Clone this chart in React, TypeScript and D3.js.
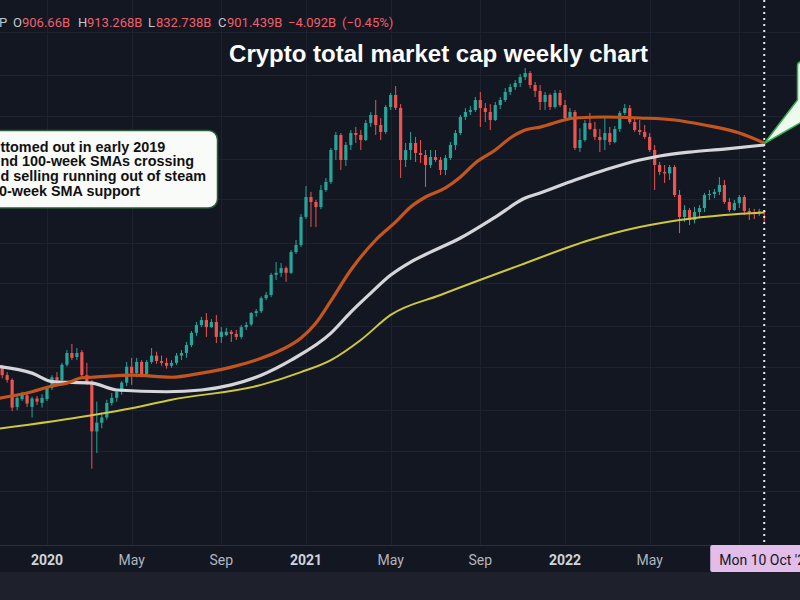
import React from 'react';
import * as d3 from 'd3';

// ---------- DATA (billions USD, weekly bars starting Monday) ----------
const firstBar = '2019-10-28';
const lastBar = '2022-10-10';

const barOpen = [
  253, 249, 234, 225, 180, 192, 198, 180, 193, 186,
  192, 211, 230, 225, 255, 281, 272, 283, 234, 222,
  147, 158, 165, 186, 194, 204, 220, 251, 238, 261,
  236, 261, 275, 263, 259, 253, 259, 275, 281, 300,
  332, 354, 369, 348, 363, 321, 326, 335, 329, 321,
  348, 356, 391, 397, 442, 454, 536, 545, 567, 545,
  647, 686, 865, 1020, 979, 939, 1081, 1155, 1504, 1703,
  1385, 1568, 1731, 1703, 1634, 1879, 2009, 1849, 1746, 2146,
  2370, 2130, 1385, 1504, 1595, 1468, 1443, 1329, 1420, 1385,
  1275, 1408, 1568, 1731, 1977, 2060, 2093, 2274, 2127, 2060,
  1927, 2181, 2274, 2430, 2532, 2617, 2749, 2841, 2574, 2450,
  2237, 2370, 2146, 2409, 2181, 1958, 2060, 1530, 1634, 1879,
  1790, 1676, 1634, 1730, 1607, 1790, 2043, 2127, 1896, 1774,
  1746, 1676, 1504, 1329, 1254, 1240, 1307, 1037, 865, 916,
  843, 901, 931, 1037, 1046, 1064, 1126, 979, 916, 970,
  1020, 909, 895, 888, 906.66,
];
const barHigh = [
  261, 255, 240, 228, 197, 204, 202, 196, 197, 200,
  214, 234, 240, 259, 288, 303, 293, 288, 259, 225,
  188, 172, 191, 202, 207, 223, 261, 270, 270, 265,
  265, 293, 284, 275, 270, 265, 281, 288, 308, 337,
  363, 379, 391, 372, 385, 348, 346, 340, 340, 354,
  363, 394, 404, 449, 465, 545, 596, 591, 575, 658,
  715, 886, 1117, 1064, 995, 1126, 1193, 1529, 1746, 1731,
  1607, 1774, 1819, 1774, 1927, 2058, 2274, 1958, 2181, 2409,
  2553, 2200, 1595, 1746, 1676, 1634, 1504, 1504, 1504, 1420,
  1443, 1607, 1774, 2009, 2127, 2164, 2332, 2430, 2216, 2199,
  2237, 2332, 2510, 2596, 2682, 2818, 2963, 2889, 2639, 2574,
  2430, 2400, 2470, 2470, 2274, 2127, 2093, 1800, 1927, 2043,
  1896, 1790, 1958, 1819, 1834, 2077, 2199, 2181, 1958, 1927,
  1849, 1731, 1568, 1363, 1329, 1329, 1329, 1081, 954, 931,
  939, 954, 1055, 1081, 1090, 1203, 1174, 1010, 995, 1037,
  1037, 931, 925, 925, 913.268,
];
const barLow = [
  240, 228, 220, 174, 175, 189, 180, 165, 183, 179,
  189, 207, 220, 221, 251, 265, 265, 230, 216, 108,
  123, 151, 162, 182, 188, 199, 214, 216, 230, 230,
  232, 257, 257, 253, 247, 249, 255, 265, 270, 295,
  323, 348, 321, 346, 305, 305, 323, 308, 313, 316,
  340, 351, 379, 391, 435, 446, 514, 527, 506, 540,
  637, 675, 850, 796, 796, 923, 1064, 1135, 1385, 1275,
  1318, 1504, 1595, 1504, 1621, 1819, 1703, 1634, 1720, 2093,
  2093, 1194, 1307, 1385, 1363, 1352, 1108, 1297, 1363, 1223,
  1223, 1385, 1504, 1703, 1927, 2009, 2060, 1819, 1896, 1774,
  1911, 2110, 2237, 2370, 2470, 2532, 2682, 2500, 2332, 2093,
  2093, 2093, 2120, 2146, 1927, 1927, 1504, 1480, 1610, 1774,
  1634, 1480, 1504, 1568, 1590, 1746, 2009, 1864, 1746, 1703,
  1648, 1480, 1081, 1223, 1145, 1174, 1020, 757, 830, 809,
  820, 857, 901, 995, 1010, 1037, 963, 901, 909, 931,
  879, 843, 850, 872, 832.738,
];
const barClose = [
  249, 234, 225, 179, 194, 199, 185, 193, 188, 194,
  211, 230, 225, 255, 281, 270, 281, 234, 220, 147,
  158, 165, 186, 194, 204, 220, 251, 238, 261, 236,
  261, 275, 263, 259, 253, 259, 275, 281, 300, 332,
  354, 369, 348, 363, 321, 335, 335, 329, 321, 348,
  354, 391, 397, 442, 454, 536, 545, 567, 545, 647,
  686, 865, 1020, 979, 939, 1081, 1155, 1504, 1703, 1385,
  1568, 1731, 1703, 1634, 1879, 2009, 1849, 1746, 2146, 2370,
  2130, 1385, 1504, 1595, 1468, 1443, 1329, 1420, 1385, 1275,
  1408, 1568, 1731, 1977, 2060, 2093, 2274, 2127, 2060, 1927,
  2181, 2274, 2430, 2532, 2617, 2749, 2841, 2574, 2450, 2237,
  2370, 2146, 2409, 2181, 1958, 2060, 1530, 1634, 1879, 1790,
  1676, 1634, 1730, 1607, 1790, 2043, 2127, 1896, 1774, 1746,
  1676, 1504, 1329, 1254, 1240, 1307, 1037, 865, 916, 843,
  901, 931, 1037, 1046, 1064, 1126, 979, 916, 970, 1020,
  909, 895, 888, 905.53, 901.439,
];

// 50-week SMA (orange)
const sma50Dates = [
  '2019-10-28', '2019-12-16', '2020-01-13', '2020-02-03', '2020-02-24', '2020-03-09',
  '2020-05-04', '2020-06-29', '2020-08-10', '2020-09-21', '2020-11-02', '2020-11-30',
  '2020-12-28', '2021-01-18', '2021-02-08', '2021-03-08', '2021-04-12', '2021-05-10',
  '2021-05-31', '2021-06-21', '2021-07-19', '2021-08-09', '2021-08-30', '2021-09-27',
  '2021-10-18', '2021-11-08', '2021-11-29', '2022-01-17', '2022-02-28', '2022-04-18',
  '2022-06-06', '2022-07-18', '2022-09-05', '2022-10-10',
];
const sma50Values = [
  193, 204, 214, 219, 229, 230,
  234, 230, 238, 250, 269, 288,
  318, 360, 432, 558, 715, 830,
  939, 1020, 1099, 1203, 1351, 1504,
  1661, 1774, 1818, 1960, 1976, 1960,
  1927, 1849, 1731, 1594,
];

// 100-week SMA (white)
const sma100Dates = [
  '2019-10-28', '2019-12-16', '2020-01-13', '2020-03-09', '2020-04-13', '2020-06-22',
  '2020-08-10', '2020-09-21', '2020-11-02', '2020-12-14', '2021-02-08', '2021-03-08',
  '2021-04-05', '2021-05-03', '2021-05-31', '2021-06-28', '2021-08-09', '2021-09-27',
  '2021-11-08', '2021-11-29', '2022-01-17', '2022-02-28', '2022-04-18', '2022-05-16',
  '2022-06-27', '2022-08-15', '2022-10-10',
];
const sma100Values = [
  252, 238, 222, 219, 207, 204,
  207, 216, 234, 265, 331, 394,
  461, 535, 596, 647, 727, 864,
  1011, 1054, 1174, 1275, 1385, 1432,
  1479, 1516, 1568,
];

// 200-week SMA (yellow)
const sma200Dates = [
  '2019-10-28', '2020-03-09', '2020-05-04', '2020-06-29', '2020-11-02', '2020-12-28',
  '2021-02-08', '2021-03-22', '2021-05-03', '2021-07-12', '2021-11-01', '2022-02-07',
  '2022-04-18', '2022-06-13', '2022-08-15', '2022-10-10',
];
const sma200Values = [
  150, 168, 178, 191, 216, 240,
  265, 313, 385, 454, 581, 715,
  796, 843, 879, 898,
];

// time axis (grid at every tick; the last tick's label is hidden under the crosshair label)
const tickDates = [
  '2020-01-06', '2020-05-04', '2020-09-07', '2021-01-04', '2021-05-03',
  '2021-09-06', '2022-01-03', '2022-05-02', '2022-09-05',
];
const tickLabels = ['2020', 'May', 'Sep', '2021', 'May', 'Sep', '2022', 'May', ''];
const tickIsYear = [true, false, false, true, false, false, true, false, false];

// horizontal grid levels (billions)
const gridLevels = [4000, 2800, 2000, 1400, 1000, 700, 500, 350, 250, 175, 125, 90];

const headerTokens = ['P', 'O', '906.66B', 'H', '913.268B', 'L', '832.738B', 'C', '901.439B', '\u22124.092B', '(\u22120.45%)'];
const headerIsLabel = [true, true, false, true, false, true, false, true, false, false, false];

const title = 'Crypto total market cap weekly chart';
const noteLines = [
  'ttomed out in early 2019',
  'nd 100-week SMAs crossing',
  'd selling running out of steam',
  '0-week SMA support',
];
const crosshairLabel = "Mon 10 Oct '22";

// ---------- CHART ----------
const parse = d3.utcParse('%Y-%m-%d');

export default function App() {
  React.useEffect(() => {
    document.body.style.margin = '0';
    document.body.style.background = '#131722';
  }, []);

  const W = 800;
  const H = 600;
  const plotBottom = 545;
  const axisBottom = 572;

  const dates = d3.utcMonday.range(parse(firstBar) as Date, d3.utcDay.offset(parse(lastBar) as Date, 1));
  const bars = dates.map((d, i) => ({
    date: d,
    o: barOpen[i],
    h: barHigh[i],
    l: barLow[i],
    c: barClose[i],
  }));

  const x = d3
    .scaleUtc()
    .domain([parse('2020-01-06') as Date, parse('2022-01-03') as Date])
    .range([47, 565]);
  const y = d3.scaleLog().domain([57.5, 5196]).range([plotBottom, 0]);

  const up = '#26a69a';
  const down = '#ef5350';
  const bodyW = 3.2;

  const mkLine = (ds: string[], vs: number[]) =>
    d3
      .line<number>()
      .x((_, i) => x(parse(ds[i]) as Date))
      .y((v) => y(v))
      .curve(d3.curveMonotoneX)(vs) || '';

  const crossX = x(parse(lastBar) as Date);

  const headerX = [-1, 13, 22, 78, 87, 148, 156, 218, 227, 288, 342];

  return (
    <svg
      width={W}
      height={H}
      style={{ position: 'absolute', left: 0, top: 0, display: 'block' }}
      xmlns="http://www.w3.org/2000/svg"
    >
      <defs>
        <clipPath id="plot">
          <rect x={0} y={0} width={W} height={plotBottom} />
        </clipPath>
      </defs>
      <rect x={0} y={0} width={W} height={H} fill="#131722" />
      <rect x={0} y={axisBottom} width={W} height={H - axisBottom} fill="#1e212b" />

      {/* grid */}
      <g stroke="#1e2230" strokeWidth={1}>
        {tickDates.map((t, i) => (
          <line key={'v' + i} x1={Math.round(x(parse(t) as Date)) + 0.5} x2={Math.round(x(parse(t) as Date)) + 0.5} y1={0} y2={plotBottom} />
        ))}
        {gridLevels.map((g, i) => (
          <line key={'h' + i} x1={0} x2={W} y1={Math.round(y(g)) + 0.5} y2={Math.round(y(g)) + 0.5} />
        ))}
      </g>

      <g clipPath="url(#plot)">
        {/* candles */}
        {bars.map((b, i) => {
          const cx = x(b.date);
          const isUp = b.c >= b.o;
          const col = isUp ? up : down;
          const yTop = y(Math.max(b.o, b.c));
          const yBot = y(Math.min(b.o, b.c));
          return (
            <g key={i}>
              <line x1={cx} x2={cx} y1={y(b.h)} y2={y(b.l)} stroke={col} strokeWidth={1} />
              <rect x={cx - bodyW / 2} y={yTop} width={bodyW} height={Math.max(1, yBot - yTop)} fill={col} />
            </g>
          );
        })}

        {/* moving averages */}
        <path d={mkLine(sma200Dates, sma200Values)} fill="none" stroke="#cfc83f" strokeWidth={2} />
        <path d={mkLine(sma100Dates, sma100Values)} fill="none" stroke="#d6d6da" strokeWidth={3.2} />
        <path d={mkLine(sma50Dates, sma50Values)} fill="none" stroke="#c4561d" strokeWidth={3.2} />
      </g>

      {/* crosshair */}
      <line
        x1={crossX}
        x2={crossX}
        y1={0}
        y2={plotBottom}
        stroke="#e8e8ee"
        strokeWidth={2}
        strokeDasharray="2 4"
      />

      {/* axis strip */}
      <line x1={0} x2={W} y1={plotBottom + 0.5} y2={plotBottom + 0.5} stroke="#2a2e39" />
      {tickDates.map((t, i) =>
        tickLabels[i] ? (
          <text
            key={'t' + i}
            x={x(parse(t) as Date)}
            y={565}
            textAnchor="middle"
            fontFamily="Roboto, 'Liberation Sans', sans-serif"
            fontSize={14}
            fontWeight={tickIsYear[i] ? 700 : 400}
            fill={tickIsYear[i] ? '#d1d4dc' : '#b2b5be'}
          >
            {tickLabels[i]}
          </text>
        ) : null
      )}
      <rect x={crossX - 54} y={plotBottom} width={110} height={axisBottom - plotBottom} rx={2} fill="#e2bdea" />
      <text
        x={crossX - 45}
        y={565}
        fontFamily="Roboto, 'Liberation Sans', sans-serif"
        fontSize={14}
        fill="#131722"
      >
        {crosshairLabel}
      </text>

      {/* header OHLC */}
      {headerTokens.map((t, i) => (
        <text
          key={'h' + i}
          x={headerX[i]}
          y={26.5}
          fontFamily="Roboto, 'Liberation Sans', sans-serif"
          fontSize={13}
          fill={headerIsLabel[i] ? '#c3c6d0' : '#ef5f6b'}
        >
          {t}
        </text>
      ))}

      {/* title */}
      <text
        x={438.5}
        y={62}
        textAnchor="middle"
        fontFamily="'Liberation Sans', Arial, sans-serif"
        fontWeight={700}
        fontSize={24}
        fill="#ffffff"
      >
        {title}
      </text>

      {/* left annotation */}
      <rect x={-12} y={130.5} width={229.5} height={77.5} rx={9} fill="#f9fbf9" stroke="#2d5b3c" strokeWidth={1.5} />
      {noteLines.map((t, i) => (
        <text
          key={'n' + i}
          x={i === 3 ? -1 : 0.5}
          y={151.5 + i * 14.8}
          fontFamily="'Liberation Sans', Arial, sans-serif"
          fontWeight={700}
          fontSize={14.4}
          fill="#111111"
        >
          {t}
        </text>
      ))}

      {/* right callout */}
      <path
        d={`M 812 62 L 801 62 Q 797.5 62 797.5 66 L 797.5 100 L ${crossX} 143.5 L 800 123 L 812 123 Z`}
        fill="#eefaee"
        stroke="#35b352"
        strokeWidth={1.5}
      />
    </svg>
  );
}
